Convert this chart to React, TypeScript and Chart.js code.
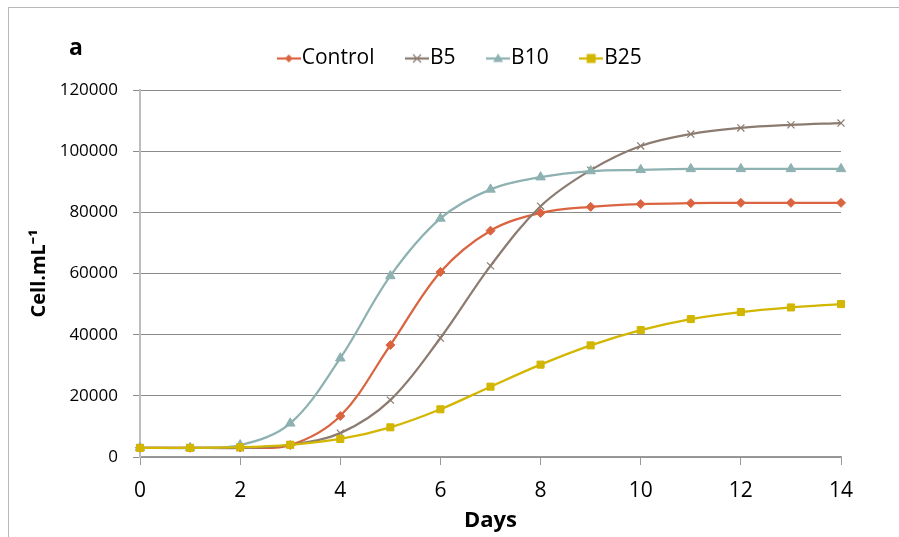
import React, { useEffect, useRef } from 'react';
import { Chart, registerables } from 'chart.js';

Chart.register(...registerables);

const days = [0, 1, 2, 3, 4, 5, 6, 7, 8, 9, 10, 11, 12, 13, 14];
const seriesNames = ['Control', 'B5', 'B10', 'B25'];
const control = [3000, 3000, 3100, 3900, 13400, 36600, 60500, 74000, 79800, 81800, 82700, 83000, 83100, 83100, 83100];
const b5 = [3000, 3000, 3000, 4000, 7800, 18600, 38900, 62500, 82000, 93800, 101700, 105600, 107600, 108600, 109200];
const b10 = [3000, 3000, 3900, 11000, 32300, 59200, 78000, 87500, 91500, 93500, 93900, 94200, 94200, 94200, 94200];
const b25 = [3000, 3000, 3200, 4000, 5900, 9700, 15600, 23000, 30200, 36500, 41500, 45100, 47400, 48900, 50000];
const yTickStep = 20000;
const yMax = 120000;
const xTickStep = 2;
const xMax = 14;

const colors = ['#DA6440', '#8C7B70', '#8EB1B1', '#D2B600'];
const styles = ['rectRot', 'crossRot', 'triangle', 'rect'];
const radii = [4.5, 5, 5.5, 5];

function makeIcon(color: string, marker: string): HTMLCanvasElement {
  const c = document.createElement('canvas');
  c.width = 24;
  c.height = 14;
  const g = c.getContext('2d')!;
  g.strokeStyle = color;
  g.fillStyle = color;
  g.lineWidth = 2.25;
  g.beginPath();
  g.moveTo(0, 7);
  g.lineTo(24, 7);
  g.stroke();
  const cx = 12, cy = 7;
  g.beginPath();
  if (marker === 'rectRot') {
    g.moveTo(cx, cy - 4); g.lineTo(cx + 4, cy); g.lineTo(cx, cy + 4); g.lineTo(cx - 4, cy); g.closePath(); g.fill();
  } else if (marker === 'crossRot') {
    g.lineWidth = 1.2;
    g.moveTo(cx - 4, cy - 4); g.lineTo(cx + 4, cy + 4); g.moveTo(cx + 4, cy - 4); g.lineTo(cx - 4, cy + 4); g.stroke();
  } else if (marker === 'triangle') {
    g.moveTo(cx, cy - 5); g.lineTo(cx + 5, cy + 3.5); g.lineTo(cx - 5, cy + 3.5); g.closePath(); g.fill();
  } else {
    g.rect(cx - 4.5, cy - 4.5, 9, 9); g.fill();
  }
  return c;
}

const decor = {
  id: 'decor',
  beforeDraw(chart: any) {
    const ctx = chart.ctx;
    ctx.save();
    ctx.fillStyle = '#ffffff';
    ctx.fillRect(0, 0, chart.width, chart.height);
    ctx.strokeStyle = '#b8b8b8';
    ctx.lineWidth = 1;
    ctx.strokeRect(8.5, 7.5, 1000, 1000);
    ctx.restore();
  },
  afterDraw(chart: any) {
    const ctx = chart.ctx;
    ctx.save();
    ctx.font = 'bold 23px "Open Sans"';
    ctx.fillStyle = '#000';
    ctx.textAlign = 'left';
    ctx.textBaseline = 'alphabetic';
    ctx.fillText('a', 69, 55);
    ctx.restore();
  },
};

export default function App() {
  const ref = useRef<HTMLCanvasElement | null>(null);
  useEffect(() => {
    document.body.style.margin = '0';
    const values = [control, b5, b10, b25];
    const icons = seriesNames.map((_, i) => makeIcon(colors[i], styles[i]));
    const datasets = seriesNames.map((name, i) => ({
      label: name,
      data: days.map((d, j) => ({ x: d, y: values[i][j] })),
      borderColor: colors[i],
      backgroundColor: colors[i],
      pointBackgroundColor: colors[i],
      pointBorderColor: colors[i],
      pointStyle: styles[i],
      pointRadius: radii[i],
      pointBorderWidth: i === 1 ? 1.2 : 1,
      borderWidth: 2.25,
      tension: 0.35,
      fill: false,
      clip: false,
      order: 3 - i,
      xAxisID: 'x',
      yAxisID: 'y',
    }));
    const chart = new Chart(ref.current!, {
      type: 'line',
      data: { datasets } as any,
      plugins: [decor],
      options: {
        animation: false,
        responsive: false,
        color: '#000',
        layout: { padding: { left: 29, right: 0, top: 8, bottom: 0 } },
        plugins: {
          tooltip: { enabled: false },
          legend: {
            position: 'top',
            align: 'center',
            labels: {
              font: { family: '"Open Sans"', size: 21 },
              color: '#000',
              usePointStyle: true,
              pointStyleWidth: 5,
              padding: 40,
              generateLabels: () =>
                seriesNames.map((n, i) => ({
                  text: n,
                  pointStyle: icons[i],
                  fillStyle: colors[i],
                  strokeStyle: colors[i],
                  lineWidth: 0,
                  hidden: false,
                  datasetIndex: i,
                  fontColor: '#000',
                })) as any,
            },
          },
        },
        scales: {
          x: {
            type: 'linear',
            position: 'bottom',
            min: 0,
            max: xMax,
            ticks: {
              stepSize: xTickStep,
              padding: 13,
              color: '#000',
              font: { family: '"Open Sans"', size: 21 },
            },
            grid: { drawOnChartArea: false, drawTicks: true, tickLength: 8, color: '#9a9a9a' },
            border: { display: true, color: '#9a9a9a', width: 1.5 },
            title: {
              display: true,
              text: 'Days',
              color: '#000',
              font: { family: '"Open Sans"', size: 22, weight: 'bold' },
              padding: { top: 0, bottom: 3 },
            },
            afterFit: (s: any) => { s.height = 80; },
          },
          xTop: {
            type: 'linear',
            position: 'top',
            display: true,
            ticks: { display: false },
            grid: { display: false, drawTicks: false },
            border: { display: false },
            afterFit: (s: any) => { s.height = 11; },
          },
          y: {
            type: 'linear',
            position: 'left',
            min: 0,
            max: yMax,
            ticks: {
              stepSize: yTickStep,
              padding: 15,
              color: '#000',
              font: { family: '"Open Sans"', size: 17 },
              callback: (v: any) => String(v),
            },
            grid: { color: '#8a8a8a', lineWidth: 1, tickLength: 7 },
            border: { display: true, color: '#bdbdbd', width: 2 },
            title: {
              display: true,
              text: 'Cell.mL\u207B\u00B9',
              color: '#000',
              font: { family: '"Open Sans"', size: 20, weight: 'bold' },
              padding: { top: -2, bottom: 0 },
            },
            afterFit: (s: any) => { s.width = 111; },
          },
          yRight: {
            type: 'linear',
            position: 'right',
            display: true,
            ticks: { display: false },
            grid: { display: false, drawTicks: false },
            border: { display: false },
            afterFit: (s: any) => { s.width = 58; },
          },
        },
      } as any,
    });
    return () => chart.destroy();
  }, []);
  return (
    <div style={{ width: 899, height: 537 }}>
      <canvas ref={ref} width={899} height={537} />
    </div>
  );
}
